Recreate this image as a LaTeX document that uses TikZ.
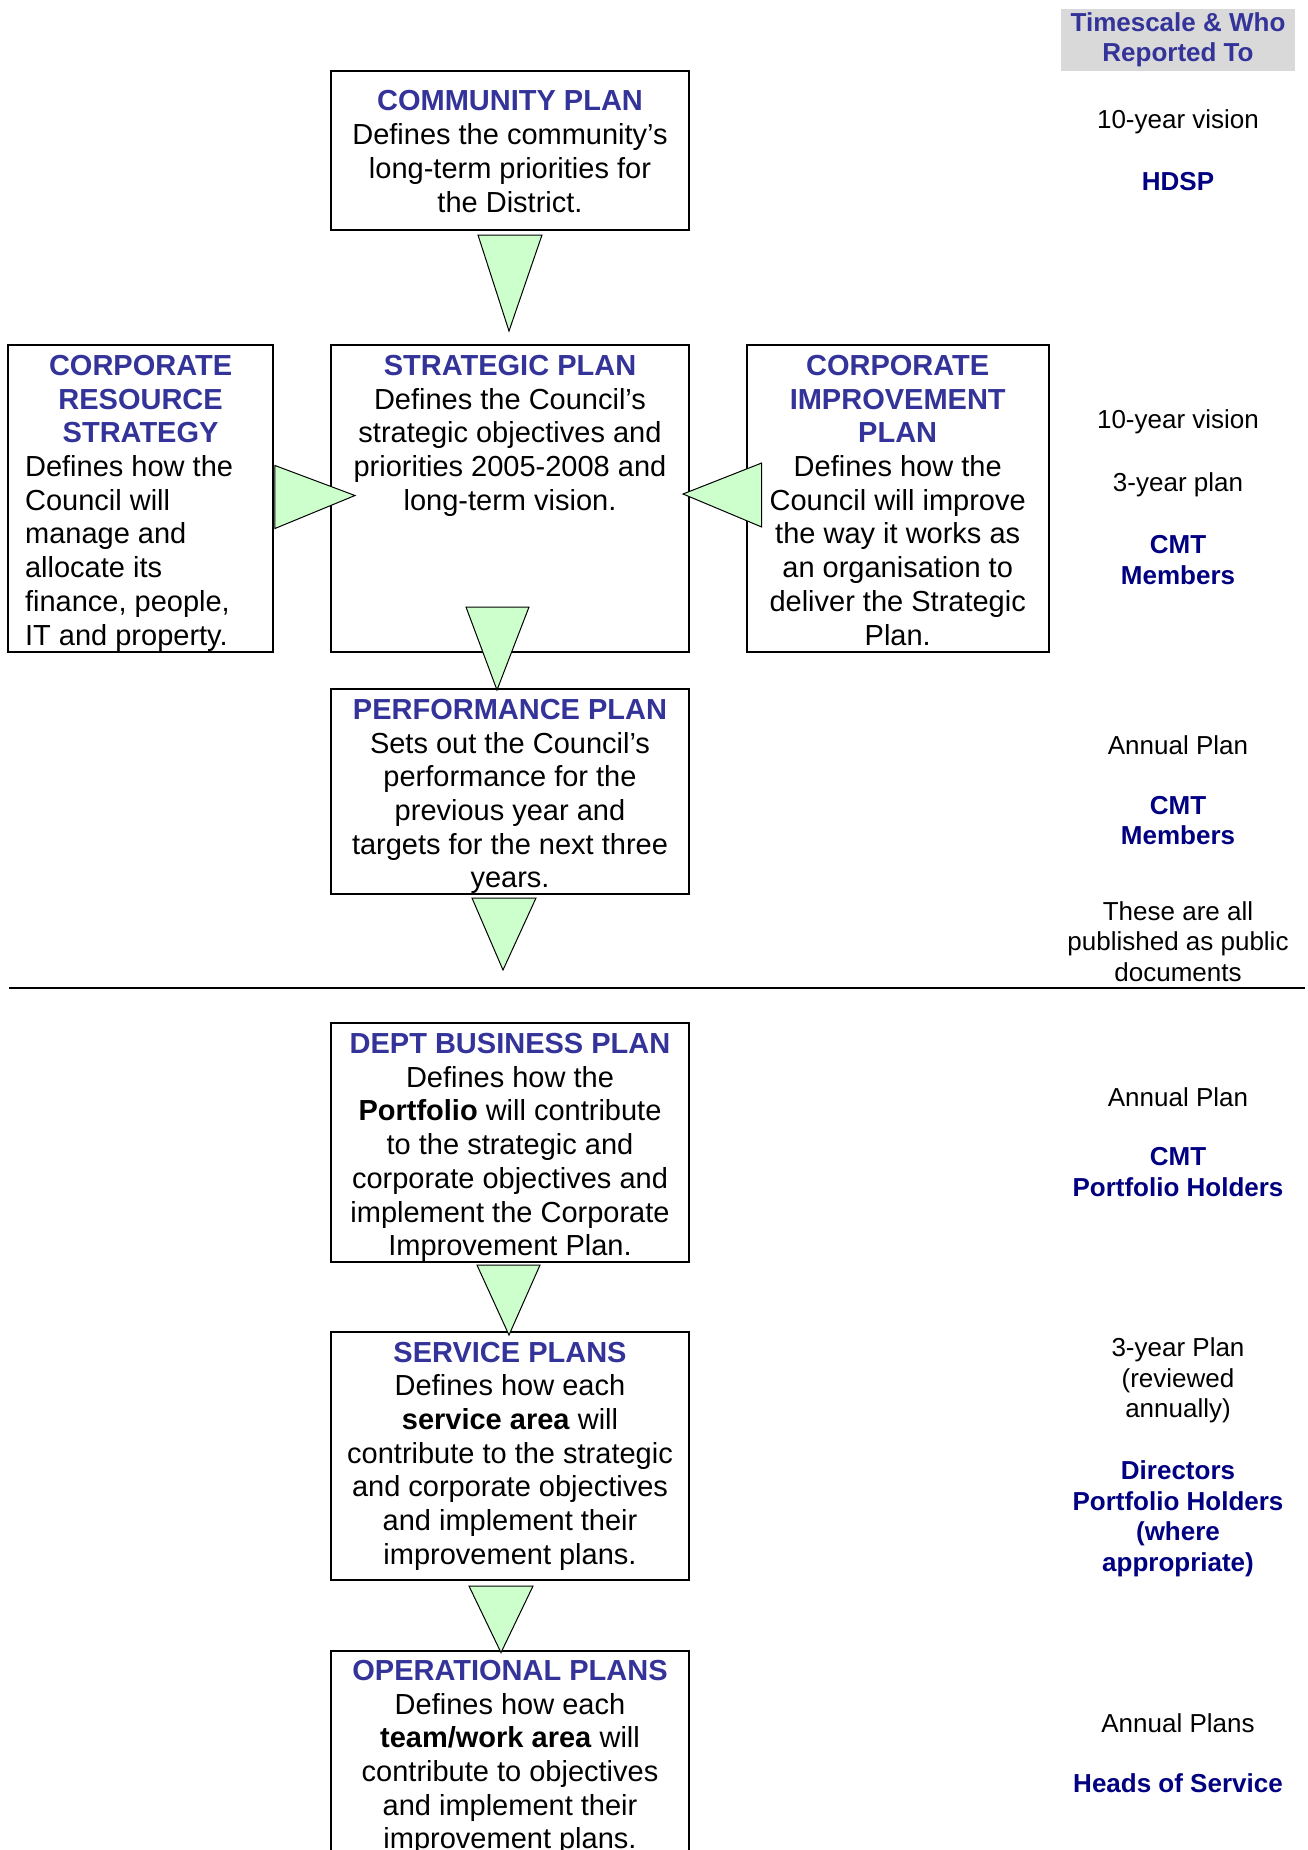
\documentclass[tikz,border=0pt]{standalone}
\usepackage{fontspec}
\setmainfont{Liberation Sans}
\usetikzlibrary{positioning,calc}
\definecolor{titleblue}{RGB}{51,51,153}
\definecolor{whonavy}{RGB}{0,0,128}
\definecolor{headgray}{RGB}{217,217,217}
\definecolor{flowgreen}{RGB}{204,255,204}
\newcommand{\planfont}{\fontsize{29}{33.7}\selectfont}
\newcommand{\colfont}{\fontsize{26}{30.5}\selectfont}
\newcommand{\plantitle}[1]{\textcolor{titleblue}{\bfseries #1}}
\tikzset{
	planbox/.style={draw=black, line width=2pt, minimum width=358pt, inner sep=0pt, outer sep=0pt},
	plantext/.style={font=\planfont, align=center, inner sep=0pt},
	flow/.style={draw=black, line width=1pt, fill=flowgreen},
	coltext/.style={font=\colfont, align=center, inner sep=0pt},
	colwho/.style={coltext, text=whonavy, font=\colfont\bfseries},
	sepline/.style={draw=black, line width=1.5pt}
}
\begin{document}
\begin{tikzpicture}[x=1pt, y=-1pt]
	\path[use as bounding box] (0,0) rectangle (1307,1850);
	\clip (0,0) rectangle (1307,1850);
	% plan boxes
	\node (CP) at (510, 150.5)	[planbox, minimum height=159pt]	{};
	\node (CRS) at (140.6, 498.5)	[planbox, minimum width=264.7pt, minimum height=307pt]	{};
	\node (SP) at (510, 498.5)	[planbox, minimum height=307pt]	{};
	\node (CIP) at (897.7, 498.5)	[planbox, minimum width=302pt, minimum height=307pt]	{};
	\node (PP) at (510, 791.5)	[planbox, minimum height=205pt]	{};
	\node (DBP) at (510, 1142.4)	[planbox, minimum height=238.7pt]	{};
	\node (SerP) at (510, 1455.8)	[planbox, minimum height=248.5pt]	{};
	\node (OP) at (510, 1781)	[planbox, minimum height=260pt]	{};
	% box texts
	\node (CPtext) [plantext, below=19.5pt of CP.north]	{\plantitle{COMMUNITY PLAN}\\Defines the community’s\\long-term priorities for\\the District.};
	\node (CRStext) [plantext, align=left, below=10pt of CRS.north]	{\makebox[231pt]{\plantitle{CORPORATE}}\\\makebox[231pt]{\plantitle{RESOURCE}}\\\makebox[231pt]{\plantitle{STRATEGY}}\\Defines how the\\Council will\\manage and\\allocate its\\finance, people,\\IT and property.};
	\node (SPtext) [plantext, below=10pt of SP.north]	{\plantitle{STRATEGIC PLAN}\\Defines the Council’s\\strategic objectives and\\priorities 2005-2008 and\\long-term vision.};
	\node (CIPtext) [plantext, below=10pt of CIP.north]	{\plantitle{CORPORATE}\\\plantitle{IMPROVEMENT}\\\plantitle{PLAN}\\Defines how the\\Council will improve\\the way it works as\\an organisation to\\deliver the Strategic\\Plan.};
	\node (PPtext) [plantext, below=10pt of PP.north]	{\plantitle{PERFORMANCE PLAN}\\Sets out the Council’s\\performance for the\\previous year and\\targets for the next three\\years.};
	\node (DBPtext) [plantext, below=10pt of DBP.north]	{\plantitle{DEPT BUSINESS PLAN}\\Defines how the\\\textbf{Portfolio} will contribute\\to the strategic and\\corporate objectives and\\implement the Corporate\\Improvement Plan.};
	\node (SerPtext) [plantext, below=10pt of SerP.north]	{\plantitle{SERVICE PLANS}\\Defines how each\\\textbf{service area} will\\contribute to the strategic\\and corporate objectives\\and implement their\\improvement plans.};
	\node (OPtext) [plantext, below=9pt of OP.north]	{\plantitle{OPERATIONAL PLANS}\\Defines how each\\\textbf{team/work area} will\\contribute to objectives\\and implement their\\improvement plans.};
	% timescale column
	\node (tsHead) at (1178, 40)	[coltext, fill=headgray, minimum width=234pt, minimum height=62pt, text=titleblue, font=\colfont\bfseries]	{Timescale \& Who\\Reported To};
	\node (tsCP) at (1178, 122)	[coltext]	{10-year vision};
	\node (whoCP) at (1178, 182)	[colwho]	{HDSP};
	\node (tsSP) at (1178, 422)	[coltext]	{10-year vision};
	\node (tsSP2) at (1178, 485)	[coltext]	{3-year plan};
	\node (whoSP) at (1178, 560)	[colwho]	{CMT\\Members};
	\node (tsPP) at (1178, 745)	[coltext]	{Annual Plan};
	\node (whoPP) at (1178, 820.5)	[colwho]	{CMT\\Members};
	\node (pubNote) at (1178, 941.5)	[coltext]	{These are all\\published as public\\documents};
	\node (tsDBP) at (1178, 1097)	[coltext]	{Annual Plan};
	\node (whoDBP) at (1178, 1172)	[colwho]	{CMT\\Portfolio Holders};
	\node (tsSerP) at (1178, 1380.5)	[coltext]	{3-year Plan\\(reviewed\\annually)};
	\node (whoSerP) at (1178, 1519)	[colwho]	{Directors\\Portfolio Holders\\(where\\appropriate)};
	\node (tsOP) at (1178, 1723)	[coltext]	{Annual Plans};
	\node (whoOP) at (1178, 1783)	[colwho]	{Heads of Service};
	% published / internal split
	\coordinate (sepL) at (9, 988);
	\coordinate (sepR) at (1305, 988);
	\draw[sepline] (sepL) -- (sepR);
	% block arrows
	\draw[flow] ($(CP.south)+(-32,5)$) -- ($(CP.south)+(32,5)$) -- ($(SP.north)+(-1,-14)$) -- cycle;
	\draw[flow] ($(CRS.east)+(2,-33)$) -- ($(CRS.east)+(2,30)$) -- ($(SP.west)+(24,-3)$) -- cycle;
	\draw[flow] ($(CIP.west)+(15,-35.5)$) -- ($(CIP.west)+(15,28.5)$) -- ($(SP.east)+(-6,-4.5)$) -- cycle;
	\draw[flow] ($(SP.south)+(-44,-45)$) -- ($(SP.south)+(19,-45)$) -- ($(PP.north)+(-13,1)$) -- cycle;
	\draw[flow] ($(PP.south)+(-38,4)$) -- ($(PP.south)+(26,4)$) -- ($(sepL -| PP.south)+(-7,-18)$) -- cycle;
	\draw[flow] ($(DBP.south)+(-33,3.3)$) -- ($(DBP.south)+(30,3.3)$) -- ($(SerP.north)+(-1,3.5)$) -- cycle;
	\draw[flow] ($(SerP.south)+(-41,6)$) -- ($(SerP.south)+(23,6)$) -- ($(OP.north)+(-9,1.6)$) -- cycle;
\end{tikzpicture}
\end{document}
